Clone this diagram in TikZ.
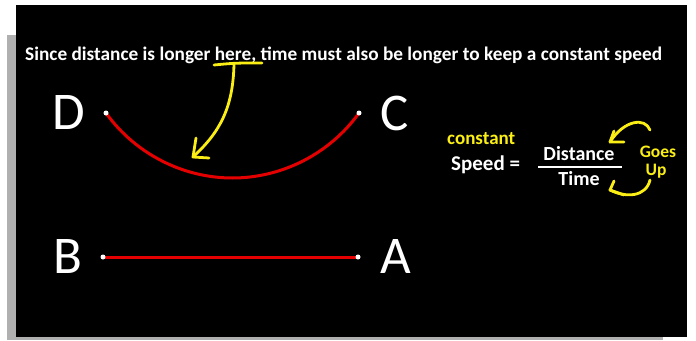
\documentclass[tikz,border=0pt]{standalone}
\usepackage{fontspec}
\setmainfont{Carlito}
\definecolor{myyellow}{RGB}{250,238,20}
\definecolor{myred}{RGB}{228,0,0}
\definecolor{shadowgray}{RGB}{176,176,176}
\tikzset{
  letter/.style={text=white,font=\fontsize{53}{56}\selectfont,anchor=base,inner sep=0pt},
  btext/.style={font=\bfseries\fontsize{#1}{#1}\selectfont,inner sep=0pt},
  redline/.style={myred,line width=3pt},
  yline/.style={myyellow,line width=2.8pt,line cap=round,line join=round},
  enddot/.style={fill=white,circle,inner sep=0pt,minimum size=5pt}
}
\begin{document}
\begin{tikzpicture}[x=1pt,y=-1pt]
\useasboundingbox (0,0) rectangle (696,340);
\fill[white] (0,0) rectangle (696,340);
\fill[shadowgray] (7,35) rectangle (663,340);
\fill[black] (16,5) rectangle (687,337);
% title
\node[btext=19.3,text=white,anchor=base west] (title) at (25,60)
  {Since distance is longer here, time must also be longer to keep a constant speed};
% letters
\node[letter] (D) at (69,129) {D};
\node[letter] (C) at (395,130) {C};
\node[letter] (B) at (68,273) {B};
\node[letter] (A) at (396,273) {A};
% endpoints
\coordinate (pD) at (106,113);
\coordinate (pC) at (359,113);
\coordinate (pB) at (103,257);
\coordinate (pA) at (358,257);
\coordinate (bot) at (232.5,178);
\draw[redline] (pD) .. controls (135,153.5) and (182.7,178) .. (bot)
  .. controls (282.3,178) and (330,153.5) .. (pC);
\draw[redline] (pB) -- (pA);
\foreach \p in {pD,pC,pB,pA} \node[enddot] at (\p) {};
% yellow underline and arrow
\coordinate (u1) at (214,65);
\coordinate (u2) at (262,63);
\coordinate (s0) at (234,64);
\coordinate (tip) at (193,157);
\draw[yline] (u1) .. controls (235,63) .. (u2);
\draw[yline] (s0) .. controls (233,108) and (220,132) .. (tip);
\draw[yline] (196,138) -- (tip) -- (209,158);
% formula
\node[btext=19,text=myyellow,anchor=base west] (const) at (447,144) {constant};
\node[btext=21,text=white,anchor=base west] (speed) at (451,170) {Speed =};
\node[btext=20,text=white,anchor=base] (dist) at (579,160) {Distance};
\node[btext=20,text=white,anchor=base] (time) at (579,185) {Time};
\coordinate (f1) at (538,167);
\coordinate (f2) at (622,167);
\draw[white,line width=1.6pt] (f1) -- (f2);
\node[btext=17.5,text=myyellow,anchor=base] (goes) at (658,157) {Goes};
\node[btext=17.5,text=myyellow,anchor=base] (up) at (656,175) {Up};
% small arrows
\coordinate (t1s) at (650,130);
\coordinate (t1) at (610,142);
\draw[yline] (t1s) .. controls (645,117) and (624,120) .. (t1);
\draw[yline] (614,131) -- (t1) -- (624,142);
\coordinate (t2s) at (650,180);
\coordinate (t2) at (610,190);
\draw[yline] (t2s) .. controls (646,197) and (626,198) .. (t2);
\draw[yline] (614,181) -- (t2) -- (624,195);
\end{tikzpicture}
\end{document}
